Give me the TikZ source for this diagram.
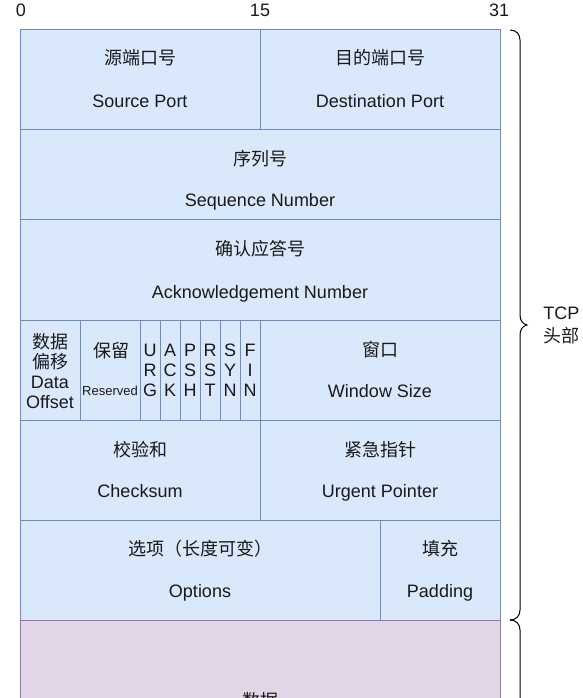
\documentclass[tikz,border=0pt]{standalone}
\usepackage{fontspec}
\setmainfont{Liberation Sans}
\newfontfamily\cjk{Noto Sans CJK SC}
\definecolor{blueF}{HTML}{DAE8FC}
\definecolor{blueD}{HTML}{6C8EBF}
\definecolor{purF}{HTML}{E1D5E7}
\definecolor{purD}{HTML}{9673A6}
\begin{document}
\begin{tikzpicture}[x=0.75pt,y=-0.75pt,
  cell/.style={draw=blueD, fill=blueF, line width=0.75pt},
  datacell/.style={draw=purD, fill=purF, line width=0.75pt},
  txt/.style={anchor=base, inner sep=0pt, font=\fontsize{13.5pt}{16pt}\selectfont, text=black!90},
  ctxt/.style={anchor=base, inner sep=0pt, font=\fontsize{13.5pt}{16pt}\selectfont\cjk, text=black!90},
  smalltxt/.style={anchor=base, inner sep=0pt, font=\fontsize{9.75pt}{11pt}\selectfont, text=black!90},
  bracestyle/.style={line width=0.75pt, black}]
\useasboundingbox (0,0) rectangle (582,698);
\clip (0,0) rectangle (582,698);
% cells
\path[cell] (20,30) rectangle (260,130);
\path[cell] (260,30) rectangle (500,130);
\path[cell] (20,130) rectangle (500,220);
\path[cell] (20,220) rectangle (500,320);
\path[cell] (20,320) rectangle (80,420);
\path[cell] (80,320) rectangle (140,420);
\foreach \i in {0,...,5} {\path[cell] (140+20*\i,320) rectangle (160+20*\i,420);}
\path[cell] (260,320) rectangle (500,420);
\path[cell] (20,420) rectangle (260,520);
\path[cell] (260,420) rectangle (500,520);
\path[cell] (20,520) rectangle (380,620);
\path[cell] (380,520) rectangle (500,620);
\path[datacell] (20,620) rectangle (500,780);
% bit labels
\node[txt] (b0) at (21,16.5) {0};
\node[txt] (b15) at (260,16.5) {15};
\node[txt] (b31) at (499,16.5) {31};
% row 1
\node[ctxt] (srcc) at (140,65) {源端口号};
\node[txt] (srce) at (140,108) {Source Port};
\node[ctxt] (dstc) at (380,65) {目的端口号};
\node[txt] (dste) at (380,108) {Destination Port};
% row 2
\node[ctxt] (seqc) at (260,166) {序列号};
\node[txt] (seqe) at (260,207) {Sequence Number};
% row 3
\node[ctxt] (ackc) at (260,255) {确认应答号};
\node[txt] (acke) at (260,298) {Acknowledgement Number};
% row 4
\node[ctxt] (off1) at (50,348) {数据};
\node[ctxt] (off2) at (50,368) {偏移};
\node[txt] (off3) at (50,388) {Data};
\node[txt] (off4) at (50,408) {Offset};
\node[ctxt] (resc) at (111,357) {保留};
\node[smalltxt] (rese) at (110,395) {Reserved};
\foreach \a/\b/\c [count=\k from 0] in {U/R/G, A/C/K, P/S/H, R/S/T, S/Y/N, F/I/N} {
  \node[txt] (fa\k) at (150+20*\k,356.5) {\a};
  \node[txt] (fb\k) at (150+20*\k,376.5) {\b};
  \node[txt] (fc\k) at (150+20*\k,396.5) {\c};
}
\node[ctxt] (winc) at (380,356) {窗口};
\node[txt] (wine) at (380,397) {Window Size};
% row 5
\node[ctxt] (chkc) at (140,456) {校验和};
\node[txt] (chke) at (140,497) {Checksum};
\node[ctxt] (urgc) at (380,456) {紧急指针};
\node[txt] (urge) at (380,497) {Urgent Pointer};
% row 6
\node[ctxt] (optc) at (200,555) {选项（长度可变）};
\node[txt] (opte) at (200,597) {Options};
\node[ctxt] (padc) at (440,555) {填充};
\node[txt] (pade) at (440,597) {Padding};
% data
\node[ctxt] (datac) at (260,707) {数据};
% braces
\draw[bracestyle] (510,30) .. controls (516,30) and (520,34) .. (520,40) -- (520,315) .. controls (520,321) and (523,324) .. (527,325) .. controls (523,326) and (520,329) .. (520,335) -- (520,610) .. controls (520,616) and (516,620) .. (510,620);
\draw[bracestyle] (510,620) .. controls (516,620) and (520,624) .. (520,630) -- (520,720);
\node[txt, anchor=base west] (tcp) at (543,319.5) {TCP};
\node[ctxt, anchor=base west] (hdr) at (543,342) {头部};
\end{tikzpicture}
\end{document}
